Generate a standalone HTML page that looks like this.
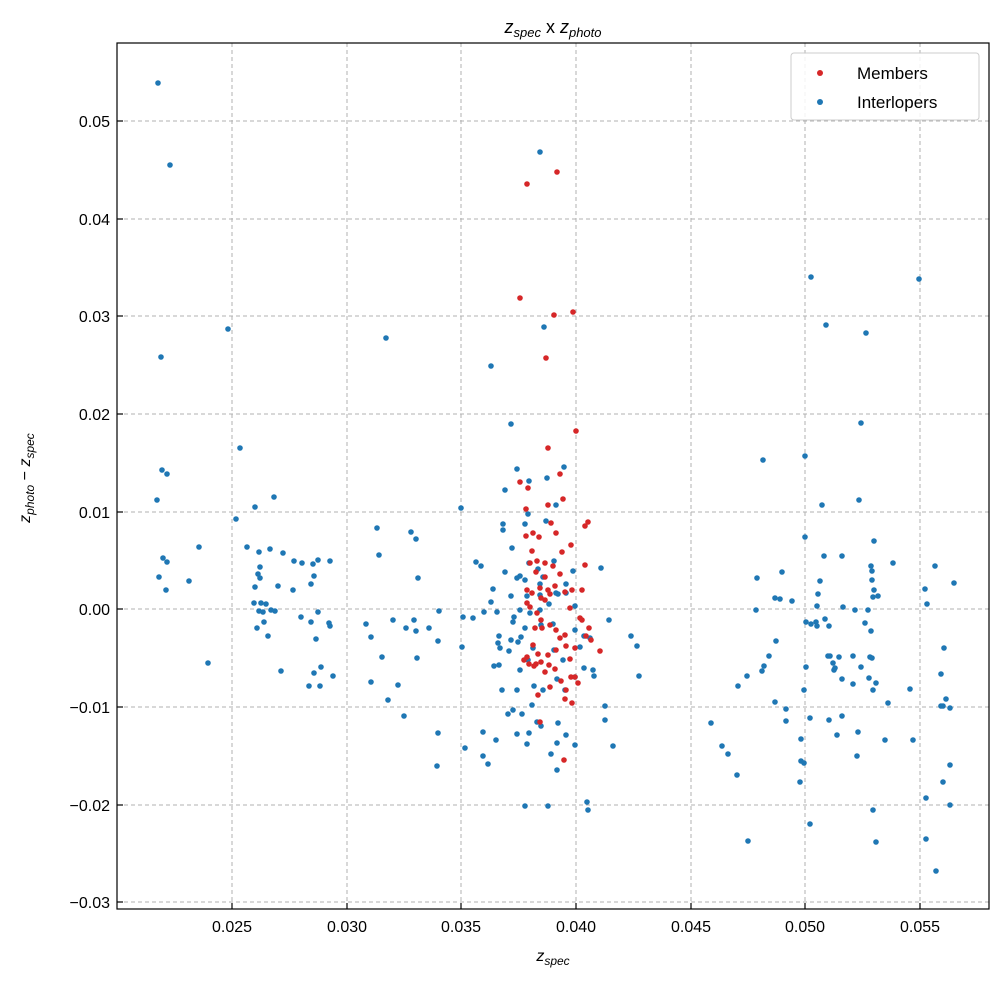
<!DOCTYPE html>
<html><head><meta charset="utf-8"><style>
body{margin:0;background:#fff;}
svg{display:block;font-family:"Liberation Sans","DejaVu Sans",sans-serif;}
</style></head><body>
<svg id="s" width="1004" height="983" xmlns="http://www.w3.org/2000/svg">
<rect width="1004" height="983" fill="#fff"/>
<g id="grid" stroke="#b0b0b0" stroke-width="1" stroke-dasharray="4,3"></g>
<g id="pts"></g>
<rect x="117" y="43" width="872" height="866" fill="none" stroke="#000" stroke-width="1.2"/>
<g id="ticks" stroke="#000" stroke-width="1.2"></g>
<g id="lab" font-size="16" fill="#000"></g>
<text x="553" y="33" font-size="18" text-anchor="middle"><tspan font-style="italic">z</tspan><tspan font-style="italic" font-size="13" dy="4">spec</tspan><tspan dy="-4"> x </tspan><tspan font-style="italic">z</tspan><tspan font-style="italic" font-size="13" dy="4">photo</tspan></text>
<text x="553" y="961" font-size="16" text-anchor="middle"><tspan font-style="italic">z</tspan><tspan font-style="italic" font-size="12" dy="4">spec</tspan></text>
<text transform="translate(30,478) rotate(-90)" font-size="16" text-anchor="middle"><tspan font-style="italic">z</tspan><tspan font-style="italic" font-size="12" dy="4">photo</tspan><tspan dy="-4"> − </tspan><tspan font-style="italic">z</tspan><tspan font-style="italic" font-size="12" dy="4">spec</tspan></text>
<rect x="791" y="53" width="188" height="67" rx="3" fill="#fff" fill-opacity="0.85" stroke="#ccc"/>
<circle cx="820" cy="73" r="3" fill="#d62728"/>
<circle cx="820" cy="102" r="3" fill="#1f77b4"/>
<text x="857" y="79" font-size="17">Members</text>
<text x="857" y="108" font-size="17">Interlopers</text>
</svg>
<script>
var NS="http://www.w3.org/2000/svg";
function el(p,t,a,txt){var e=document.createElementNS(NS,t);for(var k in a)e.setAttribute(k,a[k]);if(txt)e.textContent=txt;document.getElementById(p).appendChild(e);}
var xs=[[232,"0.025"],[347,"0.030"],[461,"0.035"],[576,"0.040"],[691,"0.045"],[805,"0.050"],[920,"0.055"]];
var ys=[[121,"0.05"],[219,"0.04"],[316,"0.03"],[414,"0.02"],[512,"0.01"],[609,"0.00"],[707,"−0.01"],[805,"−0.02"],[902,"−0.03"]];
xs.forEach(function(t){el("grid","line",{x1:t[0],x2:t[0],y1:43,y2:909});el("ticks","line",{x1:t[0],x2:t[0],y1:909,y2:903});el("lab","text",{x:t[0],y:932,"text-anchor":"middle"},t[1]);});
ys.forEach(function(t){el("grid","line",{x1:117,x2:989,y1:t[0],y2:t[0]});el("ticks","line",{x1:117,x2:123,y1:t[0],y2:t[0]});el("lab","text",{x:110,y:t[0]+6,"text-anchor":"end"},t[1]);});
var B=[[158,83],[170,165],[161,357],[228,329],[240,448],[162,470],[167,474],[157,500],[255,507],[274,497],[163,558],[167,562],[159,577],[189,581],[166,590],[199,547],[208,663],[247,547],[259,552],[283,553],[260,567],[258,574],[260,578],[255,587],[254,603],[261,603],[266,604],[259,611],[263,612],[271,610],[275,611],[264,622],[268,636],[257,628],[294,561],[293,590],[302,563],[313,564],[314,576],[318,560],[311,584],[330,561],[318,612],[311,622],[301,617],[330,626],[329,623],[333,676],[316,639],[321,667],[314,673],[309,686],[320,686],[281,671],[236,519],[270,549],[278,586],
[386,338],[377,528],[379,555],[411,532],[416,539],[418,578],[366,624],[371,637],[393,620],[406,628],[414,620],[416,631],[429,628],[439,611],[438,641],[382,657],[371,682],[398,685],[388,700],[404,716],[417,658],[438,733],[437,766],[461,508],[463,617],[462,647],[465,748],[483,756],[488,764],[476,562],[481,566],[491,602],[484,612],[473,618],
[540,152],[544,327],[491,366],[511,424],[517,469],[505,490],[529,481],[564,467],[547,478],[556,505],[528,514],[503,524],[503,530],[525,524],[512,548],[505,572],[517,578],[493,589],[511,596],[520,576],[529,563],[525,580],[527,596],[538,569],[540,584],[543,577],[549,604],[554,561],[556,593],[566,593],[575,606],[497,612],[514,617],[530,613],[499,636],[498,643],[500,648],[511,640],[509,651],[525,628],[521,637],[518,642],[494,666],[499,665],[502,690],[517,690],[520,670],[533,648],[528,660],[513,710],[508,714],[522,714],[532,705],[537,722],[517,734],[529,733],[527,744],[541,726],[558,723],[551,754],[557,743],[557,770],[566,735],[575,745],[525,806],[548,806],[587,802],[588,810],[605,706],[605,720],[593,670],[566,584],[541,625],[553,624],[534,686],[543,690],[554,650],[557,679],[563,660],[565,690],[575,677],[590,638],[584,636],[584,668],[594,676],[573,571],[601,568],[558,594],[496,740],[483,732],[513,622],[609,620],[631,636],[637,646],[639,676],[613,746],[546,521],[520,610],[540,610],[540,595],[575,630],[580,647],
[919,279],[811,277],[826,325],[866,333],[805,456],[763,460],[861,423],[859,500],[822,505],[874,541],[805,537],[824,556],[842,556],[871,566],[872,571],[893,563],[935,566],[954,583],[925,589],[927,604],[872,580],[874,590],[873,597],[878,596],[868,610],[820,581],[818,594],[817,606],[843,607],[855,610],[757,578],[782,572],[792,601],[775,598],[780,599],[756,610],[806,622],[816,622],[817,626],[825,619],[829,626],[865,623],[811,624],[828,656],[830,656],[833,663],[834,670],[839,657],[842,679],[853,656],[872,658],[861,667],[870,657],[835,668],[853,684],[869,678],[873,690],[804,690],[806,667],[776,641],[769,656],[786,709],[764,666],[762,671],[747,676],[738,686],[786,721],[775,702],[810,718],[829,720],[837,735],[842,716],[858,732],[885,740],[910,689],[888,703],[944,648],[941,674],[941,706],[913,740],[801,739],[801,761],[804,763],[800,782],[810,824],[711,723],[722,746],[728,754],[737,775],[748,841],[873,810],[876,842],[926,798],[926,839],[936,871],[943,782],[950,805],[950,765],[943,706],[946,699],[950,708],[857,756],[876,683],[871,631]];
var R=[[527,184],[557,172],[520,298],[554,315],[573,312],[546,358],[548,448],[576,431],[560,474],[520,482],[528,488],[526,509],[526,536],[548,505],[551,523],[588,522],[585,526],[563,499],[533,533],[539,537],[556,533],[562,552],[571,545],[585,565],[532,551],[530,563],[537,561],[545,563],[553,566],[536,572],[545,577],[560,574],[540,588],[548,590],[555,586],[565,592],[570,608],[541,598],[545,600],[550,594],[527,590],[532,593],[527,603],[530,607],[537,613],[541,620],[535,628],[542,628],[550,625],[556,630],[560,638],[565,635],[533,645],[538,654],[556,650],[566,646],[580,618],[582,620],[589,628],[586,636],[591,640],[570,659],[549,665],[555,669],[561,681],[566,690],[571,677],[575,677],[578,683],[529,664],[534,666],[541,662],[545,672],[550,687],[538,695],[540,722],[565,699],[572,703],[564,760],[575,648],[600,651],[527,657],[524,660],[536,664],[582,590],[572,590],[548,655]];
B.forEach(function(p){el("pts","circle",{cx:p[0],cy:p[1],r:2.8,fill:"#1f77b4"});});
R.forEach(function(p){el("pts","circle",{cx:p[0],cy:p[1],r:2.8,fill:"#d62728"});});
</script>
</body></html>
